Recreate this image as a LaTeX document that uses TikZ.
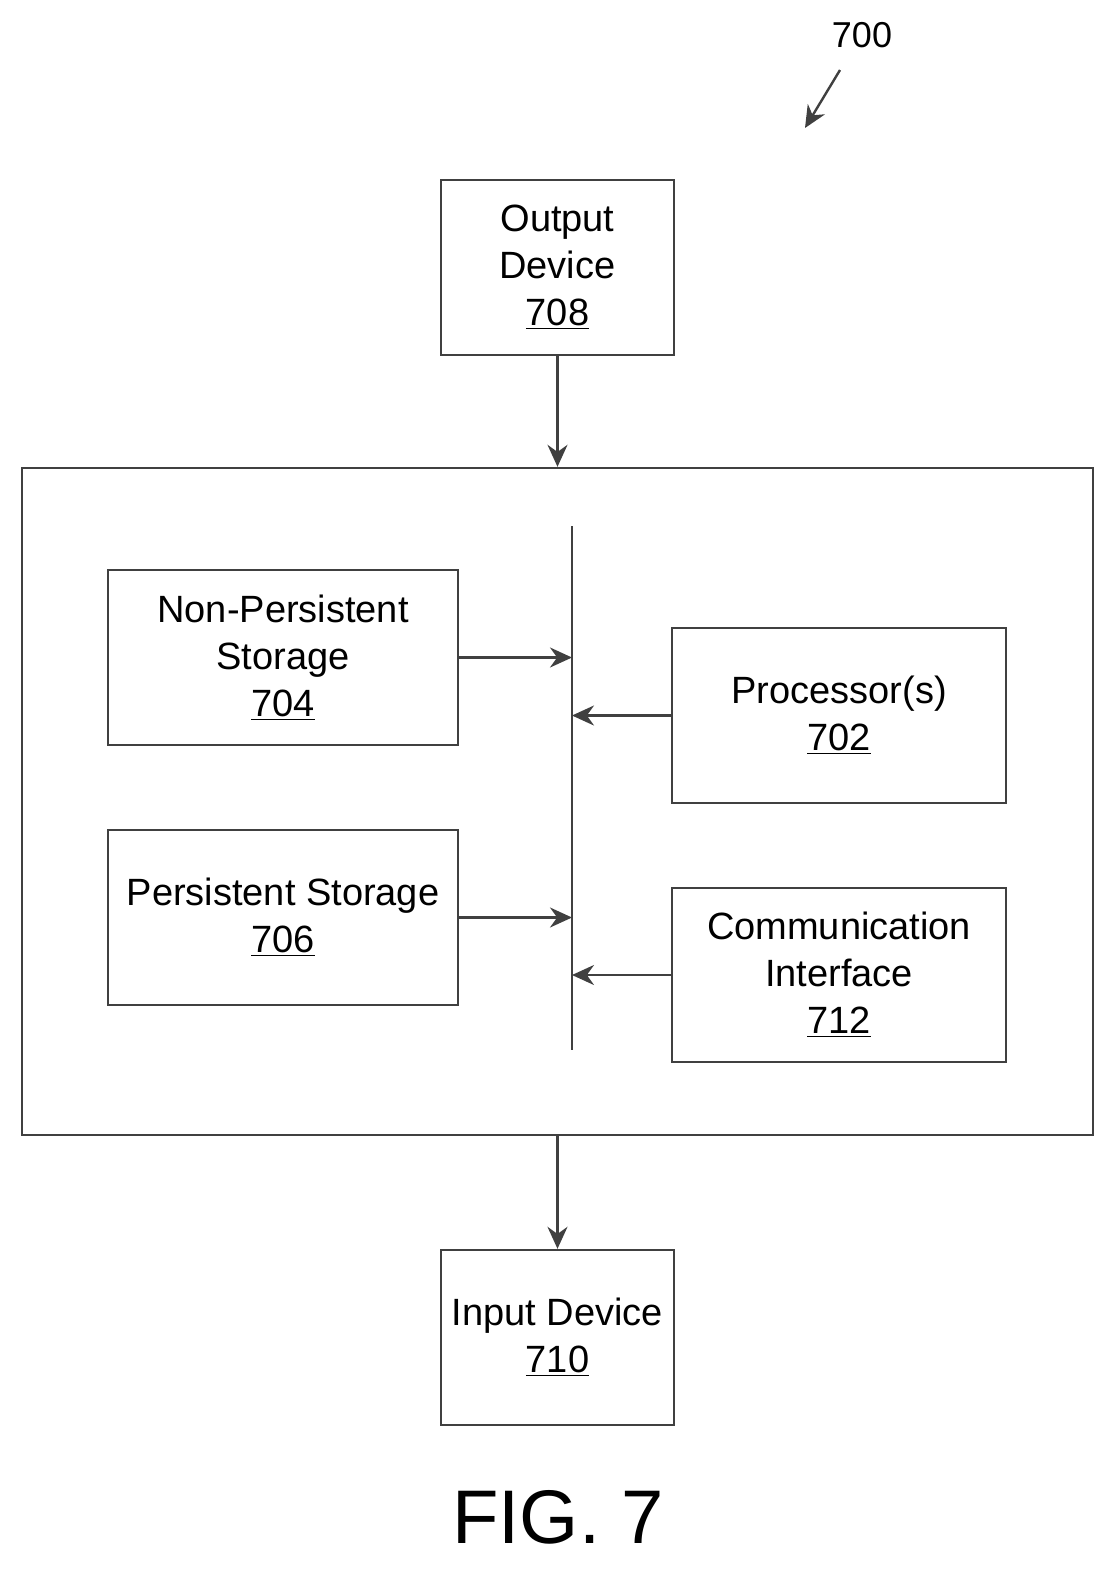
\documentclass[tikz,border=0pt]{standalone}
\usepackage{fontspec}
\setmainfont{Liberation Sans}
\usetikzlibrary{arrows.meta}
\tikzset{
    blk/.style={
            draw=black!75,
            very thick,
            align=center,
            inner sep=0pt,
            font=\fontsize{19}{23.5}\selectfont
        },
    link/.style={
            draw=black!75,
            very thick,
            -{Stealth[length=11pt,width=10pt]}
        }
}
\newcommand{\refnum}[1]{\underline{#1}}

\begin{document}
\begin{tikzpicture}[x=0.5pt, y=-0.5pt]
    \useasboundingbox (0,0) rectangle (1117,1570);
    %
    \node [blk, minimum width=116.5pt, minimum height=87.5pt] (out) at (557.5,267.5) {Output\\Device\\\refnum{708}};
    \node [blk, minimum width=535.5pt, minimum height=333.5pt] (sys) at (557.5,801.5) {};
    \node [blk, minimum width=175pt, minimum height=87.5pt] (nps) at (283,657.5) {Non-Persistent\\Storage\\\refnum{704}};
    \node [blk, minimum width=175pt, minimum height=87.5pt] (ps) at (283,917.5) {Persistent Storage\\\refnum{706}};
    \node [blk, minimum width=167pt, minimum height=87.5pt] (proc) at (839,715.5) {Processor(s)\\\refnum{702}};
    \node [blk, minimum width=167pt, minimum height=87pt] (comm) at (839,975) {Communication\\Interface\\\refnum{712}};
    \node [blk, minimum width=116.5pt, minimum height=87.5pt] (in) at (557.5,1337.5) {Input Device\\\refnum{710}};
    %
    \coordinate (bustop) at (572,526);
    \coordinate (busbot) at (572,1050);
    \draw [draw=black!75, very thick] (bustop) -- (busbot);
    \coordinate (busnps) at (572,657.5);
    \coordinate (busproc) at (572,715.5);
    \coordinate (busps) at (572,917.5);
    \coordinate (buscomm) at (572,975);
    %
    \draw [link] (out) -- (sys);
    \draw [link] (sys) -- (in);
    \draw [link] (nps) -- (busnps);
    \draw [link] (ps) -- (busps);
    \draw [link] (proc) -- (busproc);
    \draw [link] (comm) -- (buscomm);
    %
    \node [font=\fontsize{18}{20}\selectfont] (lbl) at (862,35) {700};
    \coordinate (lblstart) at (840,70);
    \coordinate (lblend) at (805,128);
    \draw [link] (lblstart) -- (lblend);
    \node [font=\fontsize{38}{42}\selectfont] (fig) at (558,1517) {FIG. 7};
\end{tikzpicture}
\end{document}
